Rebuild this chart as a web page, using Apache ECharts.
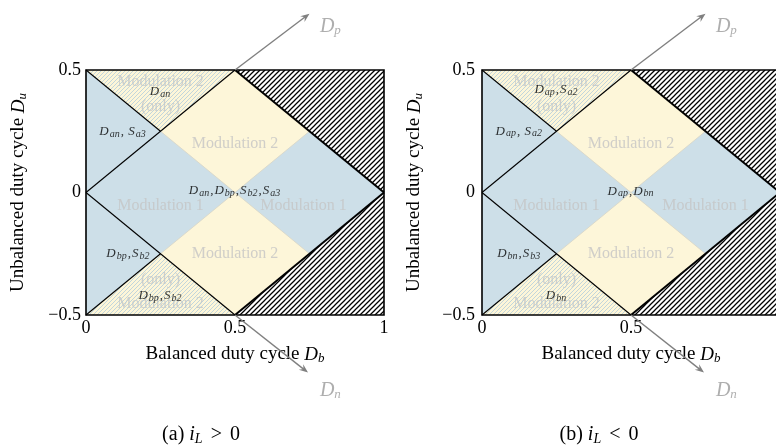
<!DOCTYPE html>
<html><head><meta charset="utf-8">
<script src="https://cdn.jsdelivr.net/npm/echarts@6/dist/echarts.min.js"></script>
<style>html,body{margin:0;padding:0;background:#fff}#c{width:776px;height:448px}</style>
</head><body><div id="c"></div>
<script>
// ---- tick labels ----
const xTickValues = [0, 0.5, 1];
const xTickLabels = ['0', '0.5', '1'];
const yTickValues = [-0.5, 0, 0.5];
const yTickLabels = ['\u22120.5', '0', '0.5'];

// ---- regions (vertices as [Db, Du]) ----
const plotArea = [[[0, -0.5], [1, -0.5], [1, 0.5], [0, 0.5]]];
const mod2Diamonds = [
  [[0.25, 0.25], [0.5, 0.5], [0.75, 0.25], [0.5, 0]],
  [[0.25, -0.25], [0.5, 0], [0.75, -0.25], [0.5, -0.5]]
];
const mod2OnlyTriangles = [
  [[0, 0.5], [0.5, 0.5], [0.25, 0.25]],
  [[0, -0.5], [0.5, -0.5], [0.25, -0.25]]
];
const infeasibleTriangles = [
  [[0.5, 0.5], [1, 0.5], [1, 0]],
  [[0.5, -0.5], [1, -0.5], [1, 0]]
];
const thinLines = [
  [[0, 0.5], [0.25, 0.25]],
  [[0, 0], [0.5, 0.5]],
  [[0, 0], [0.5, -0.5]],
  [[0, -0.5], [0.25, -0.25]]
];
const boundaryLines = [
  [[0.5, 0.5], [1, 0]],
  [[0.5, -0.5], [1, 0]]
];
const arrows = [
  [[0.5, 0.5], [0.75, 0.73]],
  [[0.5, -0.5], [0.745, -0.735]]
];
const arrowNames = [[0.82, 0.675, 'D_p'], [0.82, -0.81, 'D_n']];

// ---- text labels ----
const modLabelsA = [
  [0.25, 0.45, 'Modulation 2'], [0.25, 0.35, '(only)'], [0.5, 0.2, 'Modulation 2'],
  [0.25, -0.053, 'Modulation 1'], [0.73, -0.053, 'Modulation 1'],
  [0.5, -0.25, 'Modulation 2'], [0.25, -0.357, '(only)'], [0.25, -0.455, 'Modulation 2']
];
const switchLabelsA = [
  [0.25, 0.41, 'D_an'], [0.124, 0.247, 'D_an, S_a3'], [0.5, 0.008, 'D_an,D_bp,S_b2,S_a3'],
  [0.142, -0.251, 'D_bp,S_b2'], [0.25, -0.422, 'D_bp,S_b2']
];
const modLabelsB = [
  [0.25, 0.45, 'Modulation 2'], [0.25, 0.35, '(only)'], [0.5, 0.2, 'Modulation 2'],
  [0.25, -0.053, 'Modulation 1'], [0.75, -0.053, 'Modulation 1'],
  [0.5, -0.25, 'Modulation 2'], [0.25, -0.357, '(only)'], [0.25, -0.455, 'Modulation 2']
];
const switchLabelsB = [
  [0.25, 0.42, 'D_ap,S_a2'], [0.125, 0.25, 'D_ap, S_a2'], [0.5, 0.005, 'D_ap,D_bn'],
  [0.125, -0.251, 'D_bn,S_b3'], [0.25, -0.42, 'D_bn']
];
const captions = ['(a) ', '(b) '];
const captionRel = ['>', '<'];

// ---- styling ----
const F = 'Liberation Serif';
const BLUE = '#cddfe8', YELLOW = '#fdf6d9';

function hatch(size, color, bg, lw) {
  const c = document.createElement('canvas'); c.width = size; c.height = size;
  const g = c.getContext('2d');
  if (bg) { g.fillStyle = bg; g.fillRect(0, 0, size, size); }
  g.strokeStyle = color; g.lineWidth = lw; g.beginPath();
  g.moveTo(0, size); g.lineTo(size, 0);
  g.moveTo(-1, 1); g.lineTo(1, -1);
  g.moveTo(size - 1, size + 1); g.lineTo(size + 1, size - 1);
  g.stroke();
  return c;
}
const blackHatch = { image: hatch(5, '#000', '#fff', 1.25), repeat: 'repeat' };
const lightHatch = { image: hatch(4, '#b3cddb', null, 0.9), repeat: 'repeat' };

function toRich(s) {
  return s.split(/(,\s*)/).map(part => {
    if (/^,/.test(part)) return '{c|' + part + '}';
    const m = part.match(/^(\w)_(\w+)$/);
    return m ? '{m|' + m[1] + '}{s|' + m[2] + '}' : '{m|' + part + '}';
  }).join('');
}

function polySeries(gi, polys, style, z) {
  return {
    type: 'custom', xAxisIndex: gi, yAxisIndex: gi, silent: true, z: z, clip: false,
    data: polys.map((p, i) => [p[0][0], p[0][1], i]),
    renderItem: (params, api) => ({
      type: 'polygon',
      shape: { points: polys[params.dataIndex].map(pt => api.coord(pt)) },
      style: style
    })
  };
}
function lineSeries(gi, lines, style, z) {
  return {
    type: 'custom', xAxisIndex: gi, yAxisIndex: gi, silent: true, z: z, clip: false,
    data: lines.map((p, i) => [p[0][0], p[0][1], i]),
    renderItem: (params, api) => ({
      type: 'polyline',
      shape: { points: lines[params.dataIndex].map(pt => api.coord(pt)) },
      style: Object.assign({ fill: 'none' }, style)
    })
  };
}
function arrowSeries(gi, z) {
  return {
    type: 'custom', xAxisIndex: gi, yAxisIndex: gi, silent: true, z: z, clip: false,
    data: arrows.map((p, i) => [p[0][0], p[0][1], i]),
    renderItem: (params, api) => {
      const a = arrows[params.dataIndex];
      const p0 = api.coord(a[0]), p1 = api.coord(a[1]);
      const dx = p1[0] - p0[0], dy = p1[1] - p0[1], L = Math.hypot(dx, dy);
      const ux = dx / L, uy = dy / L, hl = 9, hw = 3.6;
      const b = [p1[0] - ux * hl, p1[1] - uy * hl];
      return {
        type: 'group', children: [
          { type: 'line', shape: { x1: p0[0], y1: p0[1], x2: p1[0] - ux * 4, y2: p1[1] - uy * 4 },
            style: { stroke: '#808080', lineWidth: 1.4 } },
          { type: 'polygon', shape: { points: [p1, [b[0] - uy * hw, b[1] + ux * hw],
              [p1[0] - ux * hl * 0.65, p1[1] - uy * hl * 0.65], [b[0] + uy * hw, b[1] - ux * hw]] },
            style: { fill: '#808080' } }
        ]
      };
    }
  };
}
function textSeries(gi, labels, labelStyle, z, rich) {
  return {
    type: 'scatter', xAxisIndex: gi, yAxisIndex: gi, silent: true, z: z, clip: false,
    symbolSize: 1, itemStyle: { color: 'transparent' },
    data: labels.map((l, i) => [l[0], l[1], i]),
    label: Object.assign({
      show: true, position: 'inside',
      formatter: p => rich ? toRich(labels[p.dataIndex][2]) : labels[p.dataIndex][2]
    }, labelStyle)
  };
}

const mathRich = {
  m: { fontFamily: F, fontStyle: 'italic', fontSize: 13, color: '#000', lineHeight: 15, padding: [0, 1, 0, 0] },
  s: { fontFamily: F, fontStyle: 'italic', fontSize: 10, color: '#000', lineHeight: 10, verticalAlign: 'bottom', padding: [0, 1, 0, 0] },
  c: { fontFamily: F, fontSize: 13, color: '#000', lineHeight: 15, padding: [0, 1, 0, 0] }
};
const grayMathRich = {
  m: { fontFamily: F, fontStyle: 'italic', fontSize: 20, color: '#9a9a9a', lineHeight: 20 },
  s: { fontFamily: F, fontStyle: 'italic', fontSize: 13, color: '#9a9a9a', lineHeight: 12, verticalAlign: 'bottom' }
};
const nameRich = {
  t: { fontFamily: F, fontSize: 19, color: '#000', lineHeight: 21 },
  m: { fontFamily: F, fontStyle: 'italic', fontSize: 19, color: '#000', lineHeight: 21 },
  s: { fontFamily: F, fontStyle: 'italic', fontSize: 13, color: '#000', lineHeight: 11, verticalAlign: 'bottom' }
};

const grids = [
  { left: 86, top: 70, width: 298, height: 245, outerBoundsMode: 'none', containLabel: false },
  { left: 482, top: 70, width: 298, height: 245, outerBoundsMode: 'none', containLabel: false }
];
const xAxes = [0, 1].map(i => ({
  gridIndex: i, type: 'value', min: 0, max: 1, interval: 0.5,
  axisLine: { show: false }, axisTick: { show: false }, splitLine: { show: false },
  axisLabel: { fontFamily: F, fontSize: 18, color: '#000', margin: 4,
    formatter: v => xTickLabels[xTickValues.indexOf(v)] },
  name: '{t|Balanced duty cycle }{m|D}{s|b}', nameLocation: 'middle', nameGap: 29,
  nameTextStyle: { rich: nameRich }
}));
const yAxes = [0, 1].map(i => ({
  gridIndex: i, type: 'value', min: -0.5, max: 0.5, interval: 0.5,
  axisLine: { show: false }, axisTick: { show: false }, splitLine: { show: false },
  axisLabel: { fontFamily: F, fontSize: 18, color: '#000', margin: i === 0 ? 5 : 7,
    formatter: v => yTickLabels[yTickValues.indexOf(v)] },
  name: '{t|Unbalanced duty cycle }{m|D}{s|u}', nameLocation: 'middle', nameGap: 57,
  nameRotate: 90,
  nameTextStyle: { rich: nameRich }
}));

const series = [];
[[modLabelsA, switchLabelsA], [modLabelsB, switchLabelsB]].forEach((lab, gi) => {
  series.push(polySeries(gi, plotArea, { fill: BLUE }, 1));
  series.push(polySeries(gi, mod2Diamonds, { fill: YELLOW, stroke: '#d8d6c6', lineWidth: 0.8 }, 2));
  series.push(polySeries(gi, mod2OnlyTriangles, { fill: YELLOW }, 2));
  series.push(textSeries(gi, lab[0], { fontFamily: F, fontSize: 16, color: '#c4c4c4' }, 3, false));
  series.push(polySeries(gi, mod2OnlyTriangles, { fill: lightHatch, opacity: 0.9 }, 4));
  series.push(polySeries(gi, infeasibleTriangles, { fill: blackHatch }, 4));
  series.push(lineSeries(gi, thinLines, { stroke: '#000', lineWidth: 1.1 }, 5));
  series.push(lineSeries(gi, boundaryLines, { stroke: '#000', lineWidth: 2 }, 5));
  series.push(polySeries(gi, plotArea, { fill: 'none', stroke: '#000', lineWidth: 1.6 }, 6));
  series.push(arrowSeries(gi, 6));
  series.push(textSeries(gi, arrowNames, { rich: grayMathRich }, 7, true));
  series.push(textSeries(gi, lab[1], { rich: mathRich }, 7, true));
});

const capRich = {
  t: { fontFamily: F, fontSize: 20, color: '#000', lineHeight: 22 },
  m: { fontFamily: F, fontStyle: 'italic', fontSize: 20, color: '#000', lineHeight: 22 },
  s: { fontFamily: F, fontStyle: 'italic', fontSize: 14, color: '#000', lineHeight: 12, verticalAlign: 'bottom' },
  r: { fontFamily: F, fontSize: 20, color: '#000', lineHeight: 22, padding: [0, 8, 0, 8] }
};
const capX = [201, 599];
const graphic = captions.map((c, i) => ({
  type: 'text', x: capX[i], y: 435, silent: true,
  style: { text: '{t|' + c + '}{m|i}{s|L}{r|' + captionRel[i] + '}{t|0}', align: 'center',
    verticalAlign: 'middle', rich: capRich }
}));

const chart = echarts.init(document.getElementById('c'), null, { renderer: 'canvas' });
chart.setOption({
  animation: false, backgroundColor: '#fff',
  grid: grids, xAxis: xAxes, yAxis: yAxes, series: series, graphic: graphic
});
</script></body></html>
